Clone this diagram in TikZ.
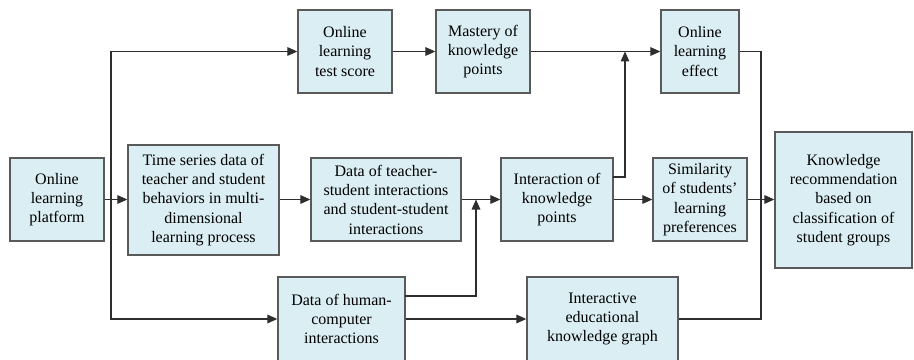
\documentclass[tikz,border=0pt]{standalone}
\usepackage{fontspec}
\setmainfont{Liberation Serif}
\usetikzlibrary{positioning,arrows.meta}
\definecolor{flowFill}{HTML}{DAEEF3}
\definecolor{flowEdge}{HTML}{5A5A5A}
\definecolor{flowLine}{HTML}{2E2E2E}
\tikzset{
  stage/.style={draw=flowEdge, fill=flowFill, line width=1pt, align=center, inner sep=2pt, font=\fontsize{12}{14.5}\selectfont},
  boxsize/.style 2 args={minimum width=#1*0.75pt, minimum height=#2*0.75pt},
  link/.style={-{Triangle[length=7.5pt,width=6.5pt]}, draw=flowLine, line width=0.8pt},
  wire/.style={draw=flowLine, line width=0.8pt}
}

\begin{document}
\begin{tikzpicture}[x=0.75pt, y=-0.75pt]
\useasboundingbox (0,0) rectangle (914,360);
% middle row
\node[stage, boxsize={94}{83}] (plat) at (57,199.5) {Online\\learning\\platform};
\node[stage, boxsize={151}{110}] (series) at (203.5,200) {Time series data of\\teacher and student\\behaviors in multi-\\dimensional\\learning process};
\node[stage, boxsize={150}{83}] (tsi) at (386,199.5) {Data of teacher-\\student interactions\\and student-student\\interactions};
\node[stage, boxsize={112}{83}] (kpi) at (557,199.5) {Interaction of\\knowledge\\points};
\node[stage, boxsize={94}{83}] (simi) at (700,199.5) {Similarity\\of students'\\learning\\preferences};
\node[stage, boxsize={137}{136}] (rec) at (843.5,200) {Knowledge\\recommendation\\based on\\classification of\\student groups};
% top row
\node[stage, boxsize={94}{83}] (score) at (345,51.5) {Online\\learning\\test score};
\node[stage, boxsize={94}{83}] (mastery) at (483,51.5) {Mastery of\\knowledge\\points};
\node[stage, boxsize={78}{83}] (effect) at (700,51.5) {Online\\learning\\effect};
% bottom row
\node[stage, boxsize={127}{84}] (hci) at (341.5,319) {Data of human-\\computer\\interactions};
\node[stage, boxsize={151}{84}] (kg) at (602.5,319) {Interactive\\educational\\knowledge graph};

% helper points for the elbows
\coordinate (split) at (111,199.5);
\coordinate (kpiOut) at (613,177);
\coordinate (kpiTop) at (625,51.5);
\coordinate (hciOut) at (405,296);
\coordinate (hciTop) at (476,199.5);
\coordinate (merge) at (761,199.5);

\draw[link] (plat) -- (plat -| series.west);
\draw[link] (split) |- (score);
\draw[link] (split) |- (hci);
\draw[link] (series.east |- tsi) -- (tsi);
\draw[link] (tsi) -- (kpi);
\draw[link] (kpi) -- (simi);
\draw[link] (simi) -- (simi -| rec.west);
\draw[link] (score) -- (mastery);
\draw[link] (mastery) -- (effect);
\draw[link] (hci) -- (kg);
\draw[link] (kpiOut) -| (kpiTop);
\draw[link] (hciOut) -| (hciTop);
\draw[wire] (effect) -| (merge);
\draw[wire] (kg) -| (merge);
\end{tikzpicture}
\end{document}
